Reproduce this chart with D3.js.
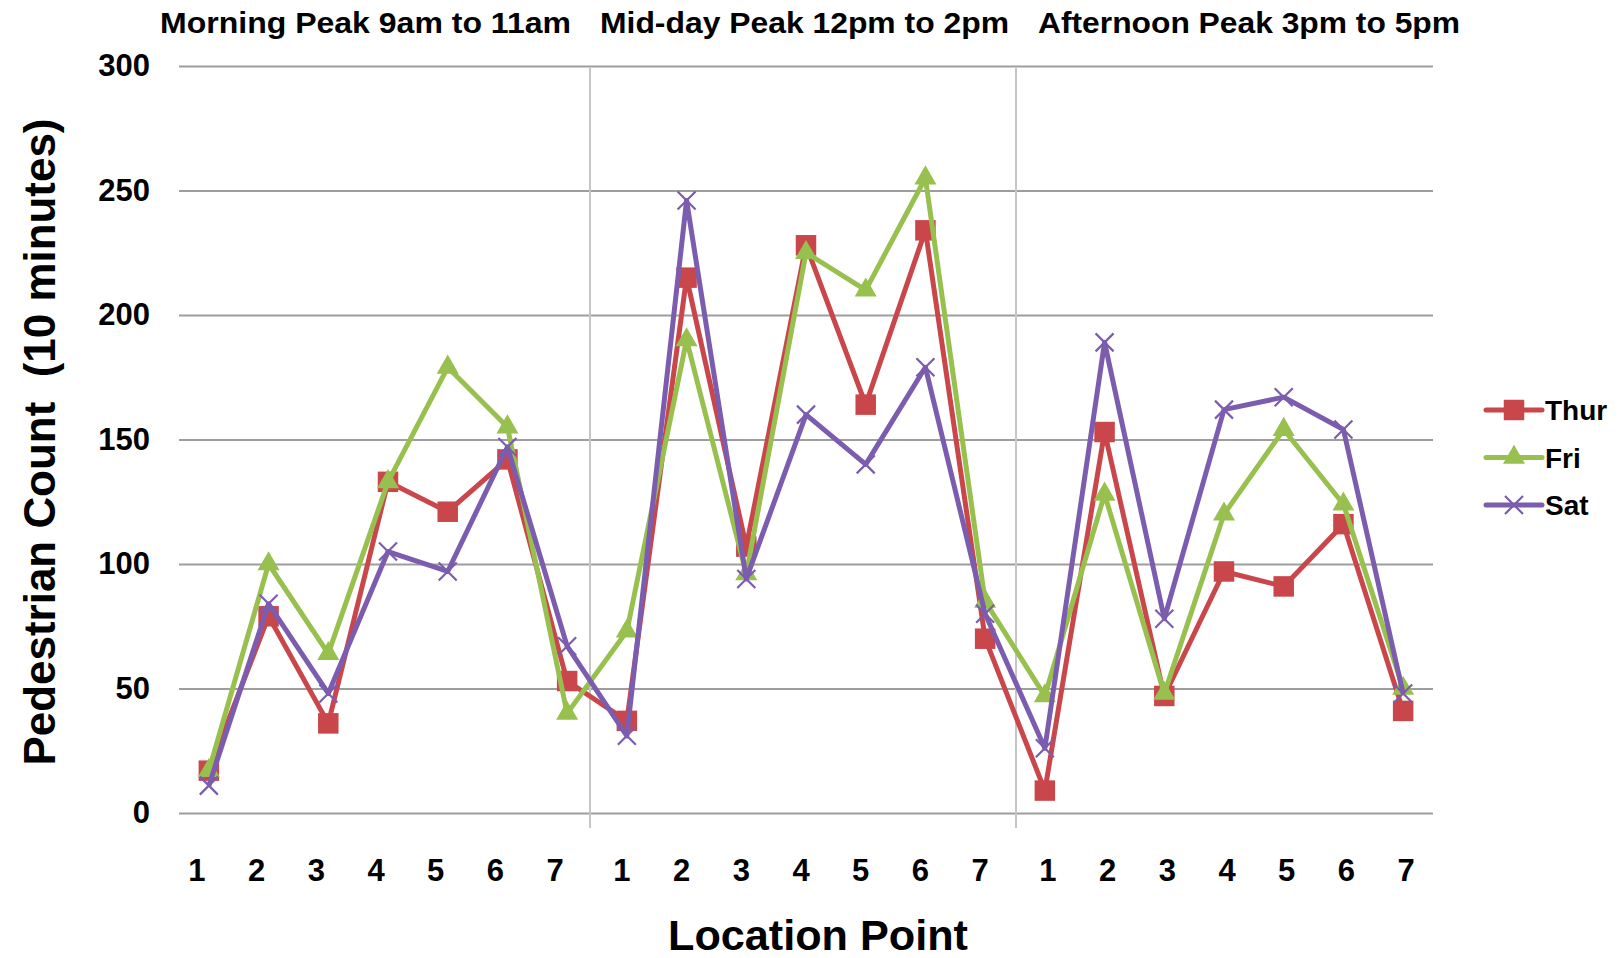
<!DOCTYPE html>
<html>
<head>
<meta charset="utf-8">
<script src="https://cdn.jsdelivr.net/npm/d3@7"></script>
<style>
  body { margin: 0; background: #fff; }
  svg text { font-family: "Liberation Sans", Arial, Helvetica, sans-serif; font-weight: bold; fill: #000; }
</style>
</head>
<body>
<script>
// data
const groups = ["Morning Peak 9am to 11am", "Mid-day Peak 12pm to 2pm", "Afternoon Peak 3pm to 5pm"];
const locations = ["1", "2", "3", "4", "5", "6", "7"];
const yTicks = [0, 50, 100, 150, 200, 250, 300];
const seriesNames = ["Thur", "Fri", "Sat"];
const thur = [17, 79, 36, 133, 121, 142, 53, 37, 215, 107, 228, 164, 234, 70, 9, 153, 47, 97, 91, 116, 41];
const fri = [17, 100, 64, 133, 179, 155, 40, 73, 190, 96, 225, 210, 255, 85, 47, 128, 48, 120, 154, 124, 50];
const sat = [11, 84, 48, 105, 97, 147, 67, 31, 246, 94, 160, 140, 179, 80, 26, 189, 78, 162, 167, 154, 48];

const W = 1623, H = 958;
const plotL = 179, plotR = 1433, plotT = 66, plotB = 813;
const colors = { Thur: "#c9474a", Fri: "#98c04f", Sat: "#7b5cae" };
const titleWidths = [411, 409, 422];
const labelNudge = [-12, -5, 3];
const sepNudge = [-7, 1];

const svg = d3.select("body").append("svg")
    .attr("width", W)
    .attr("height", H);

const cats = groups.flatMap((g, gi) => locations.map(l => gi + "-" + l));

const x = d3.scaleBand()
    .domain(cats)
    .range([plotL, plotR])
    .padding(0);
const cx = k => x(k) + x.bandwidth() / 2;

const y = d3.scaleLinear()
    .domain([0, 300])
    .range([plotB, plotT]);

// gridlines + y labels
const yAxis = svg.append("g")
    .attr("transform", `translate(${plotL},0)`)
    .call(d3.axisLeft(y).tickValues(yTicks).tickSize(-(plotR - plotL)).tickPadding(29));
yAxis.select(".domain").remove();
yAxis.selectAll("line").attr("stroke", "#9d9d9d").attr("stroke-width", 2);
yAxis.selectAll("text")
    .style("font-size", "31px")
    .attr("fill", "#000");

// period separators
[7, 14].forEach((i, j) => {
    const sx = x(cats[i]) + sepNudge[j];
    svg.append("line")
        .attr("x1", sx).attr("x2", sx)
        .attr("y1", plotT + 2).attr("y2", plotB + 15)
        .attr("stroke", "#c6c6c6")
        .attr("stroke-width", 2);
});

// x labels
const xAxis = svg.append("g")
    .attr("transform", `translate(0,${plotB})`)
    .call(d3.axisBottom(x).tickSize(0).tickPadding(46).tickFormat(k => k.split("-")[1]));
xAxis.select(".domain").remove();
xAxis.selectAll("text")
    .style("font-size", "31px")
    .attr("fill", "#000")
    .attr("dx", k => labelNudge[+k.split("-")[0]]);

// period titles
svg.selectAll(".ptitle")
    .data(groups)
    .enter()
    .append("text")
    .attr("class", "ptitle")
    .attr("x", (d, i) => [160, 600, 1038][i])
    .attr("y", 33)
    .attr("textLength", (d, i) => titleWidths[i])
    .attr("lengthAdjust", "spacingAndGlyphs")
    .style("font-size", "29px")
    .text(d => d);

// axis titles
svg.append("text")
    .attr("x", 668)
    .attr("y", 950)
    .attr("textLength", 300)
    .attr("lengthAdjust", "spacingAndGlyphs")
    .style("font-size", "43px")
    .text("Location Point");

svg.append("text")
    .attr("transform", "translate(55,442) rotate(-90)")
    .attr("text-anchor", "middle")
    .attr("textLength", 647)
    .attr("lengthAdjust", "spacingAndGlyphs")
    .style("font-size", "45px")
    .style("white-space", "pre")
    .text("Pedestrian Count  (10 minutes)");

// markers
const markerPath = {
    Thur: d3.symbol().type(d3.symbolSquare).size(420)(),
    Fri: d3.symbol().type(d3.symbolTriangle).size(210)(),
    Sat: "M-9,-9L9,9M-9,9L9,-9"
};

function drawMarker(g, name, px, py) {
    const p = g.append("path")
        .attr("d", markerPath[name])
        .attr("transform", `translate(${px},${py})`);
    if (name === "Sat") {
        p.attr("fill", "none").attr("stroke", colors[name]).attr("stroke-width", 2.2);
    } else {
        p.attr("fill", colors[name]);
    }
}

const series = [
    { name: "Thur", values: thur },
    { name: "Fri", values: fri },
    { name: "Sat", values: sat }
];

const line = d3.line()
    .x((d, i) => cx(cats[i]))
    .y(d => y(d));

series.forEach(s => {
    const g = svg.append("g");
    g.append("path")
        .datum(s.values)
        .attr("d", line)
        .attr("fill", "none")
        .attr("stroke", colors[s.name])
        .attr("stroke-width", 5)
        .attr("stroke-linejoin", "round");
    s.values.forEach((v, i) => drawMarker(g, s.name, cx(cats[i]), y(v)));
});

// legend
const legend = svg.append("g");
seriesNames.forEach((name, i) => {
    const ly = 410 + i * 47.5;
    legend.append("line")
        .attr("x1", 1486).attr("x2", 1542)
        .attr("y1", ly).attr("y2", ly)
        .attr("stroke", colors[name])
        .attr("stroke-width", 5)
        .attr("stroke-linecap", "round");
    drawMarker(legend, name, 1514, ly);
    legend.append("text")
        .attr("x", 1545)
        .attr("y", ly + 10)
        .style("font-size", "28px")
        .text(name);
});
</script>
</body>
</html>
